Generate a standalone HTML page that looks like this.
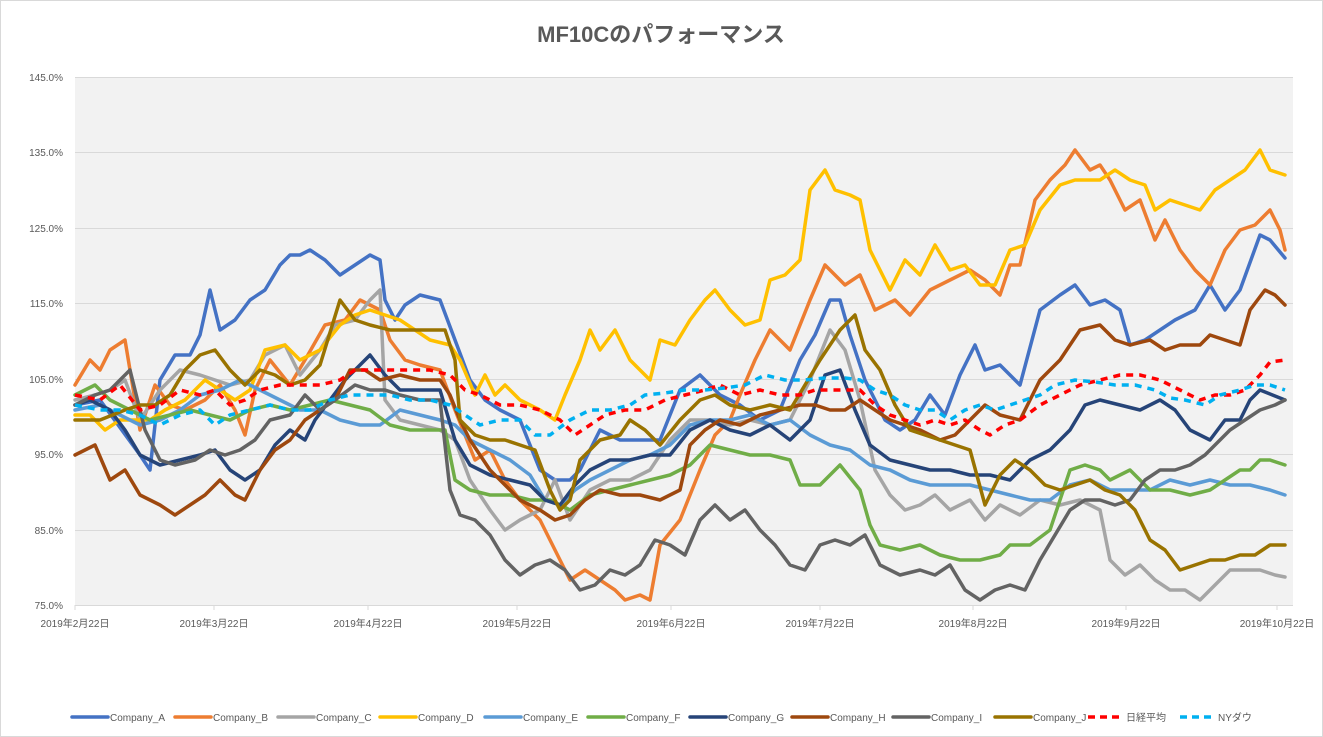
<!DOCTYPE html>
<html><head><meta charset="utf-8"><style>
body{margin:0;background:#fff;}
svg{display:block;font-family:"Liberation Sans","Noto Sans CJK JP",sans-serif;}
</style></head><body>
<svg id="c" width="1323" height="737" xmlns="http://www.w3.org/2000/svg">
<rect x="0.5" y="0.5" width="1322" height="736" fill="#fff" stroke="#d9d9d9"/>
<text x="661" y="42" text-anchor="middle" font-size="22" font-weight="bold" fill="#595959">MF10Cのパフォーマンス</text>
<rect x="75" y="77" width="1218" height="528" fill="#f2f2f2"/>
<g id="grid" stroke="#d9d9d9" stroke-width="1"></g>
<g id="yl" font-size="10" fill="#595959" text-anchor="end"></g>
<g id="xl" font-size="10" fill="#595959" text-anchor="middle"></g>
<g id="series" fill="none" stroke-width="3.5" stroke-linejoin="round" stroke-linecap="round"></g>
<g id="leg" font-size="10" fill="#595959"></g>
</svg>
<script>
const NS="http://www.w3.org/2000/svg";
function el(t,a,p,txt){const e=document.createElementNS(NS,t);for(const k in a)e.setAttribute(k,a[k]);if(txt)e.textContent=txt;document.getElementById(p).appendChild(e);}
const ys=[[145,77],[135,152],[125,228],[115,303],[105,379],[95,454],[85,530],[75,605]];
ys.forEach(([v,y])=>{el('line',{x1:75,x2:1293,y1:y+.5,y2:y+.5},'grid');el('text',{x:63,y:y+4},'yl',v.toFixed(1)+'%');});
const xs=[[75,'2019年2月22日'],[214,'2019年3月22日'],[368,'2019年4月22日'],[517,'2019年5月22日'],[671,'2019年6月22日'],[820,'2019年7月22日'],[973,'2019年8月22日'],[1126,'2019年9月22日'],[1277,'2019年10月22日']];
xs.forEach(([x,t])=>{el('line',{x1:x,x2:x,y1:605,y2:610},'grid');el('text',{x:x,y:627},'xl',t);});
const S=[
['#4472c4',0,'75,405 100,400 140,455 150,470 160,380 175,355 190,355 200,335 210,290 220,330 235,320 250,300 265,290 280,265 290,255 300,255 310,250 325,260 340,275 355,265 370,255 380,260 385,300 395,320 405,305 420,295 440,300 455,340 470,380 485,400 500,410 520,420 540,470 555,480 570,480 580,470 600,430 620,440 640,440 660,440 680,390 700,375 720,395 740,405 760,420 780,410 800,360 815,335 830,300 840,300 850,335 865,380 885,420 900,430 915,420 930,395 945,415 960,375 975,345 985,370 1000,365 1020,385 1040,310 1060,295 1075,285 1090,305 1105,300 1120,310 1130,345 1145,340 1160,330 1175,320 1195,310 1210,285 1225,310 1240,290 1260,235 1270,240 1285,258'],
['#ed7d31',0,'75,385 90,360 100,370 110,350 125,340 140,430 155,385 170,405 185,410 205,400 220,385 235,410 245,435 255,390 270,360 290,385 305,360 325,325 345,320 360,300 380,310 390,340 405,360 420,365 440,370 455,410 475,460 490,450 505,480 520,500 540,520 555,550 570,580 585,570 600,580 615,590 625,600 640,595 650,600 660,545 680,520 700,470 715,435 730,420 740,395 755,360 770,330 790,350 810,300 825,265 845,285 860,275 875,310 895,300 910,315 930,290 950,280 970,270 985,280 1000,295 1010,265 1020,265 1035,200 1050,180 1065,165 1075,150 1090,170 1100,165 1110,180 1125,210 1140,200 1155,240 1165,220 1180,250 1195,270 1210,285 1225,250 1240,230 1255,225 1270,210 1280,230 1285,250'],
['#a5a5a5',0,'75,400 95,395 110,390 125,380 140,420 160,390 180,370 200,375 215,380 230,385 250,380 265,355 285,345 300,375 320,350 335,325 355,320 370,300 380,290 385,400 400,420 420,425 440,430 455,440 470,480 490,510 505,530 520,520 540,510 555,480 570,520 590,490 610,480 630,480 650,470 670,440 690,420 710,420 730,425 750,420 770,425 790,420 810,380 830,330 845,350 860,400 875,470 890,495 905,510 920,505 935,495 950,510 970,500 985,520 1000,505 1020,515 1040,500 1060,505 1080,500 1100,510 1110,560 1125,575 1140,565 1155,580 1170,590 1185,590 1200,600 1215,585 1230,570 1245,570 1260,570 1275,575 1285,577'],
['#ffc000',0,'75,415 90,415 105,430 120,420 135,420 150,420 165,410 185,400 205,380 220,390 235,400 250,390 265,350 285,345 300,360 320,350 340,325 355,315 370,310 385,315 400,320 415,330 430,340 450,345 460,360 475,395 485,375 495,395 505,385 520,400 540,410 555,420 565,395 580,360 590,330 600,350 615,330 630,360 650,380 660,340 675,345 690,320 705,300 715,290 730,310 745,325 760,320 770,280 785,275 800,260 810,190 825,170 835,190 850,195 860,200 870,250 880,270 890,290 905,260 920,275 935,245 950,270 965,265 980,285 995,285 1010,250 1025,245 1040,210 1060,185 1075,180 1090,180 1100,180 1115,170 1130,180 1145,185 1155,210 1170,200 1185,205 1200,210 1215,190 1230,180 1245,170 1260,150 1270,170 1285,175'],
['#5b9bd5',0,'75,410 100,405 120,415 140,425 160,420 180,410 200,395 220,390 240,380 260,390 280,400 300,410 320,410 340,420 360,425 380,425 400,410 420,415 440,420 455,425 470,440 490,450 510,460 530,475 545,500 560,505 575,490 590,480 610,470 630,460 650,455 670,445 690,425 710,420 730,420 750,415 770,425 790,420 810,435 830,445 850,450 870,465 890,470 910,480 930,485 950,485 970,485 990,490 1010,495 1030,500 1050,500 1070,485 1090,480 1110,490 1130,490 1150,490 1170,480 1190,485 1210,480 1230,485 1250,485 1270,490 1285,495'],
['#70ad47',0,'75,395 95,385 110,400 130,410 150,420 170,415 190,410 210,415 230,420 250,410 270,405 290,410 310,405 330,400 350,405 370,410 390,425 410,430 430,430 445,430 455,480 470,490 490,495 510,495 530,500 550,500 570,510 590,495 610,490 630,485 650,480 670,475 690,465 710,445 730,450 750,455 770,455 790,460 800,485 820,485 840,465 860,490 870,525 880,545 900,550 920,545 940,555 960,560 980,560 1000,555 1010,545 1030,545 1050,530 1070,470 1085,465 1100,470 1110,480 1130,470 1150,490 1170,490 1190,495 1210,490 1225,480 1240,470 1250,470 1260,460 1270,460 1285,465'],
['#264478',0,'75,405 90,400 110,410 125,430 140,455 160,465 180,460 200,455 215,450 230,470 245,480 260,470 275,445 290,430 305,440 315,420 330,400 345,380 360,365 370,355 385,375 400,390 420,390 440,390 455,440 470,465 490,475 510,480 530,485 545,500 560,505 575,485 590,470 610,460 630,460 650,455 670,455 690,430 710,420 730,430 750,435 770,425 790,440 810,420 825,375 840,370 855,410 870,445 890,460 910,465 930,470 950,470 970,475 990,475 1010,480 1030,460 1050,450 1070,430 1085,405 1100,400 1120,405 1140,410 1160,400 1175,410 1190,430 1210,440 1225,420 1240,420 1250,400 1260,390 1285,400'],
['#9e480e',0,'75,455 95,445 110,480 125,470 140,495 160,505 175,515 190,505 205,495 220,480 235,495 245,500 260,470 275,450 290,440 305,420 320,410 335,400 350,370 365,370 380,380 400,375 420,380 440,380 450,395 460,420 470,440 490,470 505,485 520,500 540,510 555,520 570,515 585,500 600,490 620,495 640,495 660,500 680,490 690,445 705,430 720,420 740,425 760,415 780,410 800,405 815,405 830,410 845,410 860,400 875,410 890,420 905,425 920,430 940,440 955,435 970,420 985,405 1000,415 1020,420 1040,380 1060,360 1080,330 1100,325 1115,340 1130,345 1150,340 1165,350 1180,345 1200,345 1210,335 1225,340 1240,345 1250,310 1265,290 1275,295 1285,305'],
['#636363',0,'75,405 95,395 110,390 130,370 145,430 160,460 175,465 195,460 210,450 225,455 240,450 255,440 270,420 290,415 305,395 320,410 335,400 355,385 370,390 385,390 400,395 420,400 440,400 450,490 460,515 475,520 490,535 505,560 520,575 535,565 550,560 565,570 580,590 595,585 610,570 625,575 640,565 655,540 670,545 685,555 700,520 715,505 730,520 745,510 760,530 775,545 790,565 805,570 820,545 835,540 850,545 865,535 880,565 900,575 920,570 935,575 950,565 965,590 980,600 995,590 1010,585 1025,590 1040,560 1055,535 1070,510 1085,500 1100,500 1115,505 1130,500 1145,480 1160,470 1175,470 1190,465 1205,455 1215,445 1230,430 1245,420 1260,410 1275,405 1285,400'],
['#997300',0,'75,420 100,420 125,410 140,405 155,405 170,395 185,370 200,355 215,350 230,370 245,385 260,370 275,375 290,385 305,380 320,365 340,300 355,320 370,325 390,330 410,330 430,330 445,330 455,360 460,420 475,435 490,440 505,440 520,445 535,450 550,490 560,510 570,500 580,460 600,440 620,435 630,420 645,430 660,445 680,420 700,400 715,395 730,405 750,410 770,405 790,410 805,385 820,360 840,330 855,315 865,350 880,370 895,405 910,430 925,435 940,440 955,445 970,450 985,505 1000,475 1015,460 1030,470 1045,485 1060,490 1075,485 1090,480 1105,490 1120,495 1135,510 1150,540 1165,550 1180,570 1195,565 1210,560 1225,560 1240,555 1255,555 1270,545 1285,545'],
['#ff0000',1,'75,395 100,400 120,385 140,410 160,405 180,390 200,395 215,390 230,405 245,400 260,390 280,385 300,385 320,385 340,380 355,370 370,370 390,370 410,370 430,370 450,375 465,390 480,395 500,405 520,405 540,410 560,420 575,435 590,425 605,415 625,410 645,410 665,400 685,395 705,390 720,385 740,395 760,390 780,395 800,395 815,390 830,390 845,390 860,390 875,405 890,415 905,420 920,425 935,420 950,425 965,420 980,430 990,435 1005,425 1020,420 1040,405 1060,395 1080,385 1100,380 1120,375 1140,375 1160,380 1180,390 1200,400 1215,395 1230,395 1245,390 1260,375 1270,362 1285,360'],
['#00b0f0',1,'75,405 100,410 120,410 140,415 160,425 180,415 200,410 215,425 230,415 250,410 270,405 290,410 310,410 330,400 350,395 370,395 390,395 410,400 430,400 450,405 465,415 480,425 500,420 520,420 535,435 550,435 570,420 590,410 610,410 630,405 645,395 665,393 685,390 705,390 725,388 745,385 765,375 785,380 805,380 825,378 845,378 860,380 875,390 890,395 905,405 920,410 935,410 950,420 965,410 980,405 995,410 1010,405 1025,400 1040,395 1055,385 1075,380 1095,382 1115,385 1135,385 1155,390 1170,398 1185,400 1205,405 1220,395 1240,390 1255,385 1270,385 1285,390']
];
S.forEach(([c,d,p])=>{const a={points:p,stroke:c};if(d){a['stroke-dasharray']='7 6';a['stroke-linecap']='butt';}el('polyline',a,'series');});
const names=['Company_A','Company_B','Company_C','Company_D','Company_E','Company_F','Company_G','Company_H','Company_I','Company_J','日経平均','NYダウ'];
const lx=[72,175,278,380,485,588,690,792,893,995,1088,1180];
names.forEach((n,i)=>{const a={x1:lx[i],x2:lx[i]+36,y1:717,y2:717,stroke:S[i][0],'stroke-width':3.5,'stroke-linecap':'round'};if(S[i][1]){a['stroke-dasharray']='7 5';a['stroke-linecap']='butt';}el('line',a,'leg');el('text',{x:lx[i]+38,y:721},'leg',n);});
</script>
</body></html>
